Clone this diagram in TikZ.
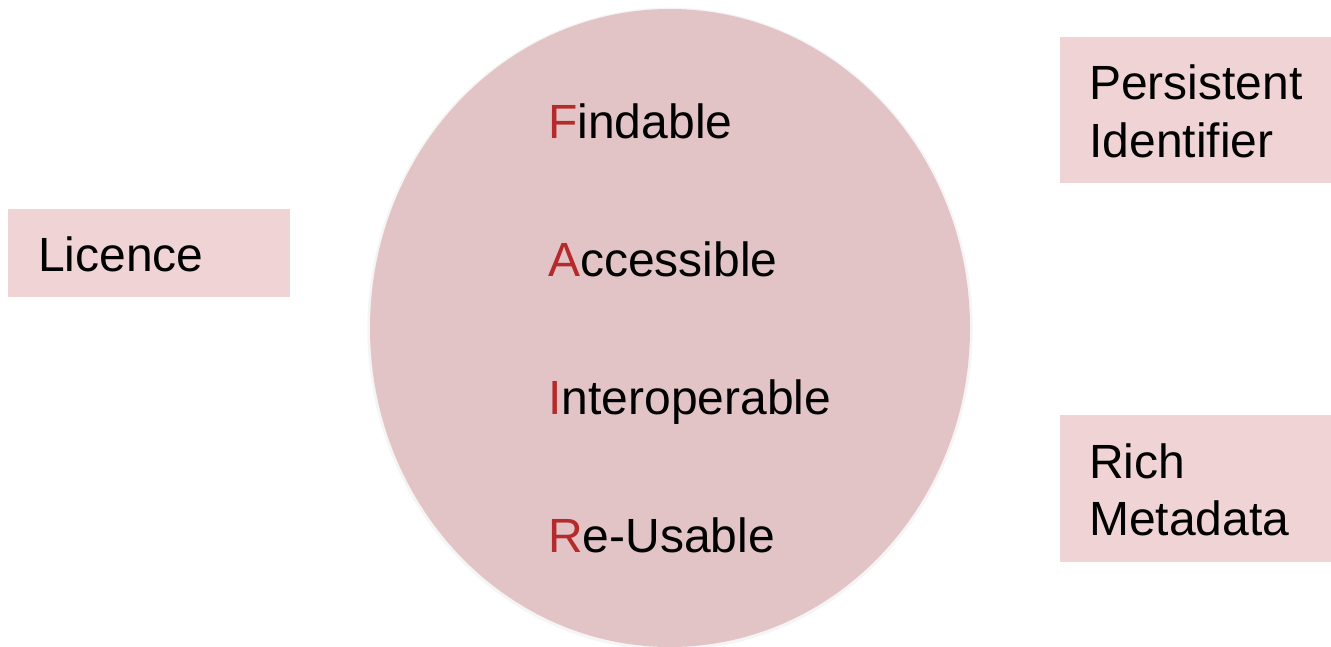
\documentclass[tikz,border=0pt]{standalone}
\usepackage{fontspec}
\setmainfont{Liberation Sans}
\usetikzlibrary{shapes.geometric}
\definecolor{ellfill}{HTML}{E2C4C6}
\definecolor{boxfill}{HTML}{F0D4D5}
\definecolor{letterred}{HTML}{B52B2B}
\tikzset{
  pbox/.style={fill=boxfill, draw=none},
  lbl/.style={anchor=base west, inner sep=0pt, font=\fontsize{36pt}{43.5pt}\selectfont, text=black},
}
\newcommand{\redl}[1]{\textcolor{letterred}{#1}}
\begin{document}
\begin{tikzpicture}[x=0.75pt, y=-0.75pt]
\useasboundingbox (0,0) rectangle (1331,646);
% ellipse with soft edge
\node[ellipse, fill=black!4, draw=none, minimum width=454pt, minimum height=482pt, inner sep=0pt] (shadow) at (670,329) {};
\node[ellipse, fill=ellfill, draw=none, minimum width=450pt, minimum height=478.5pt, inner sep=0pt] (ell) at (670,328) {};
% boxes
\fill[pbox] (8,209) rectangle (290,297) coordinate (licbox);
\fill[pbox] (1060,37) rectangle (1331,183) coordinate (pidbox);
\fill[pbox] (1060,415) rectangle (1331,562) coordinate (metabox);
% labels
\node[lbl] (lic) at (38,271) {Licence};
\node[lbl] (pid1) at (1089,99) {Persistent};
\node[lbl] (pid2) at (1089,157) {Identifier};
\node[lbl] (rm1) at (1089,478) {Rich};
\node[lbl] (rm2) at (1089,535) {Metadata};
\node[lbl] (f) at (548,138) {\redl{F}indable};
\node[lbl] (a) at (548,276) {\redl{A}ccessible};
\node[lbl] (i) at (548,414) {\redl{I}nteroperable};
\node[lbl] (r) at (548,552) {\redl{R}e-Usable};
\end{tikzpicture}
\end{document}
